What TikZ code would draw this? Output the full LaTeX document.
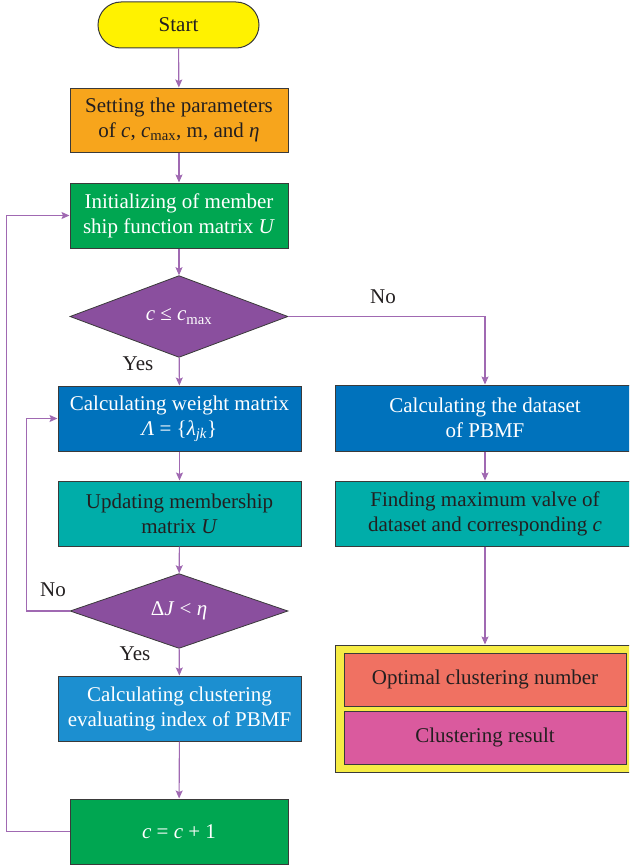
\documentclass[tikz,border=0pt]{standalone}
\usepackage[no-math]{fontspec}
\setmainfont{Liberation Serif}
\usetikzlibrary{shapes.geometric,arrows.meta}
\definecolor{cyel}{HTML}{FFF200}
\definecolor{corange}{HTML}{F7A51C}
\definecolor{cgreen}{HTML}{00A651}
\definecolor{cpurple}{HTML}{8A4F9E}
\definecolor{cblue}{HTML}{0072BC}
\definecolor{cteal}{HTML}{00ADA9}
\definecolor{clblue}{HTML}{1C8FD0}
\definecolor{cred}{HTML}{F07162}
\definecolor{cpink}{HTML}{DA5A9E}
\definecolor{ccont}{HTML}{F6EC45}
\definecolor{cline}{HTML}{A069B2}
\definecolor{cdark}{HTML}{231F20}
\definecolor{cborder}{HTML}{3A3A3A}
\newcommand{\vi}[1]{\textit{#1}}
\newcommand{\sbx}[1]{\textsubscript{#1}}
\begin{document}
\begin{tikzpicture}[x=1pt,y=-1pt,
  every node/.style={font=\fontsize{21}{25}\selectfont},
  box/.style={draw=cborder,line width=1pt,inner sep=0pt,align=center,text=cdark},
  dia/.style={diamond,draw=cborder,line width=0.8pt,fill=cpurple,inner sep=0pt,text=white,minimum width=218pt,minimum height=71pt},
  arr/.style={draw=cline,line width=1.1pt,-{Stealth[length=8pt,width=7pt,inset=1.5pt]}},
  lab/.style={text=cdark}]
\useasboundingbox (0,0) rectangle (629,867);
\begin{scope}
\clip (0,0) rectangle (629,867);
\node[box,fill=cyel,rounded corners=23pt,minimum width=161pt,minimum height=46pt] (start) at (178.5,25) {Start};
\node[box,fill=corange,minimum width=218pt,minimum height=64pt] (set) at (179,120) {Setting the parameters\\of \vi{c}, \vi{c}\sbx{max}, m, and \vi{η}};
\node[box,fill=cgreen,text=white,minimum width=218pt,minimum height=65pt] (init) at (179,215.5) {Initializing of member\\ship function matrix \vi{U}};
\node[dia] (d1) at (179,316.5) {\vi{c} ≤ \vi{c}\sbx{max}};
\node[box,fill=cblue,text=white,minimum width=243pt,minimum height=65pt] (calcw) at (179.5,418.5) {Calculating weight matrix\\\vi{Λ} = \{\vi{λ}\sbx{\vi{jk}}\}};
\node[box,fill=cteal,minimum width=243pt,minimum height=65pt] (upd) at (179.5,513.5) {Updating membership\\matrix \vi{U}};
\node[dia,minimum height=64pt] (d2) at (179,611) {Δ\vi{J} < \vi{η}};
\node[box,fill=clblue,text=white,minimum width=243pt,minimum height=65pt] (calcc) at (179.5,708.5) {Calculating clustering\\evaluating index of PBMF};
\node[box,fill=cgreen,text=white,minimum width=218pt,minimum height=65pt] (inc) at (179,831.5) {\vi{c} = \vi{c} + 1};
\node[box,fill=cblue,text=white,minimum width=300pt,minimum height=66pt] (calcd) at (485,418) {Calculating the dataset\\of PBMF};
\node[box,fill=cteal,minimum width=300pt,minimum height=65pt] (find) at (485,513.5) {Finding maximum valve of\\dataset and corresponding \vi{c}};
\node[box,fill=ccont,minimum width=300pt,minimum height=127pt] (cont) at (485,708.5) {};
\node[box,fill=cred,minimum width=282pt,minimum height=53pt] (opt) at (485,679.5) {Optimal clustering number};
\node[box,fill=cpink,minimum width=282pt,minimum height=53pt] (res) at (485,737.5) {Clustering result};
\end{scope}
\draw[arr] (start) -- (set);
\draw[arr] (set) -- (init);
\draw[arr] (init) -- (d1);
\draw[arr] (d1) -- (calcw);
\draw[arr] (calcw) -- (upd);
\draw[arr] (upd) -- (d2);
\draw[arr] (d2) -- (calcc);
\draw[arr] (calcc) -- (inc);
\draw[arr] (inc.west) -- ++(-63,0) |- (init.west);
\draw[arr] (d2.west) -- ++(-43,0) |- (calcw.west);
\draw[arr] (d1.east) -| (calcd.north);
\draw[arr] (calcd) -- (find);
\draw[arr] (find.south) -- (cont.north);
\node[lab] (no1) at (383,297) {No};
\node[lab] (yes1) at (138,364) {Yes};
\node[lab] (no2) at (53,590) {No};
\node[lab] (yes2) at (135,654) {Yes};
\end{tikzpicture}
\end{document}
